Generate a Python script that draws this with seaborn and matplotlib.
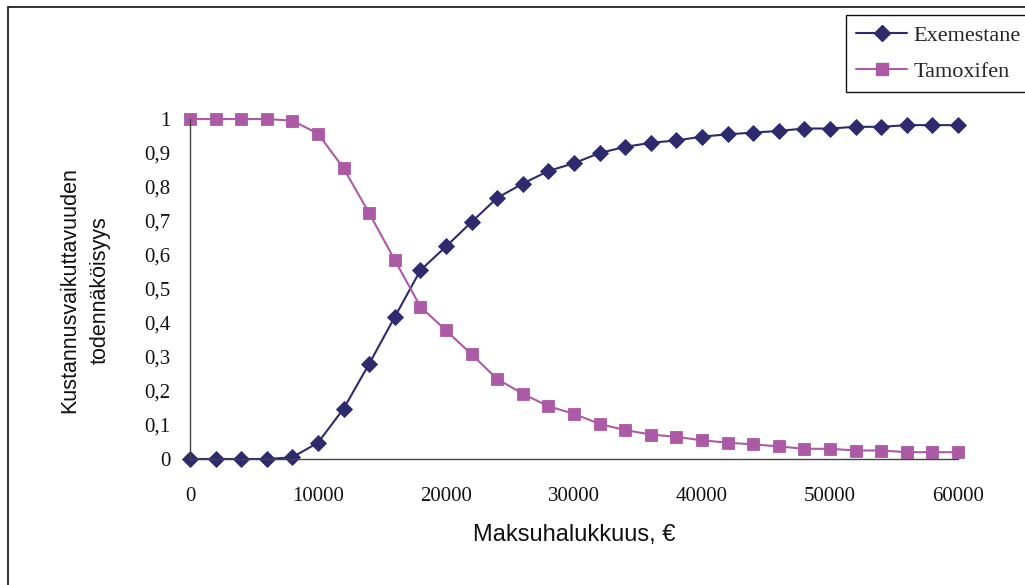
import numpy as np
import pandas as pd
import matplotlib
matplotlib.use("Agg")
import matplotlib.pyplot as plt
from matplotlib.patches import Rectangle
import seaborn as sns

# Willingness to pay (EUR) and probability of being cost-effective
wtp = list(range(0, 60001, 2000))
exemestane = [0, 0, 0, 0, 0.005, 0.048, 0.148, 0.28, 0.418, 0.555, 0.625,
              0.697, 0.768, 0.81, 0.847, 0.87, 0.9, 0.918, 0.93, 0.937, 0.948,
              0.955, 0.96, 0.965, 0.972, 0.972, 0.977, 0.977, 0.982, 0.982, 0.982]
tamoxifen = [1, 1, 1, 1, 0.995, 0.957, 0.855, 0.723, 0.585, 0.448, 0.378,
             0.308, 0.235, 0.192, 0.155, 0.133, 0.103, 0.085, 0.072, 0.065, 0.055,
             0.048, 0.043, 0.037, 0.03, 0.03, 0.025, 0.025, 0.02, 0.02, 0.02]
series_names = ["Exemestane", "Tamoxifen"]
y_ticks = [i / 10 for i in range(11)]
y_tick_labels = ["0", "0,1", "0,2", "0,3", "0,4", "0,5", "0,6", "0,7", "0,8", "0,9", "1"]
x_ticks = [0, 10000, 20000, 30000, 40000, 50000, 60000]

df = pd.DataFrame({
    "wtp": wtp * 2,
    "prob": exemestane + tamoxifen,
    "drug": [series_names[0]] * len(wtp) + [series_names[1]] * len(wtp),
})

sns.set_style("white")
W, H = 1025, 585
fig = plt.figure(figsize=(W / 100, H / 100), dpi=100)
ax = fig.add_axes([190 / W, 1 - 459 / H, 768 / W, 340 / H])

palette = {"Exemestane": "#2E2A6E", "Tamoxifen": "#AD5AA6"}
sns.lineplot(data=df, x="wtp", y="prob", hue="drug", style="drug",
             markers={"Exemestane": "D", "Tamoxifen": "s"}, dashes=False,
             palette=palette, linewidth=1.5, markersize=8.5,
             markeredgewidth=0.6, ax=ax, legend=False)
for ln in ax.lines:
    ln.set_clip_on(False)
    ln.set_markeredgecolor(ln.get_color())
    if ln.get_marker() == "D":
        ln.set_markersize(8)

ax.set_xlim(0, 60000)
ax.set_ylim(0, 1)
ax.set_xticks(x_ticks)
ax.set_xticklabels([str(v) for v in x_ticks])
ax.set_yticks(y_ticks)
ax.set_yticklabels(y_tick_labels)

serif = ["Liberation Serif", "DejaVu Serif"]
sans = ["Liberation Sans", "DejaVu Sans"]
for lab in ax.get_xticklabels() + ax.get_yticklabels():
    lab.set_family(serif)
    lab.set_fontsize(15)
    lab.set_color("#111111")
ax.tick_params(axis="x", direction="out", length=6, width=1, pad=14, color="#444444")
ax.tick_params(axis="y", direction="out", length=6, width=1, pad=8, color="#444444")

for side in ["top", "right"]:
    ax.spines[side].set_visible(False)
for side in ["left", "bottom"]:
    ax.spines[side].set_color("#444444")
    ax.spines[side].set_linewidth(1)

ax.set_xlabel("")
ax.set_ylabel("")
fig.text(574 / W, 1 - 535 / H, "Maksuhalukkuus, €", ha="center", va="center",
         fontsize=17, family=sans, color="#111111")
fig.text(85 / W, 1 - 290 / H, "Kustannusvaikuttavuuden\ntodennäköisyys",
         ha="center", va="center", rotation=90, fontsize=15.5,
         family=sans, color="#111111", linespacing=1.6)

# Legend
handles = [plt.Line2D([], [], color=palette[n], marker=m, markersize=8 if m == "D" else 8.5,
                      markeredgecolor=palette[n], linewidth=1.5)
           for n, m in zip(series_names, ["D", "s"])]
leg = fig.legend(handles, series_names, loc="upper left",
                 bbox_to_anchor=(846 / W, 1 - 15 / H), frameon=True,
                 fancybox=False, framealpha=1, edgecolor="#111111",
                 prop={"family": serif, "size": 16}, handlelength=2.3,
                 borderpad=0.45, labelspacing=0.72, handletextpad=0.28,
                 borderaxespad=0)
leg.get_frame().set_linewidth(1)

# Outer chart border
fig.patches.append(Rectangle((8 / W, -0.01), 1.05, 1 - 7 / H + 0.01,
                             transform=fig.transFigure, fill=False,
                             edgecolor="#111111", linewidth=1.2))

fig.savefig("out.png", dpi=100)
